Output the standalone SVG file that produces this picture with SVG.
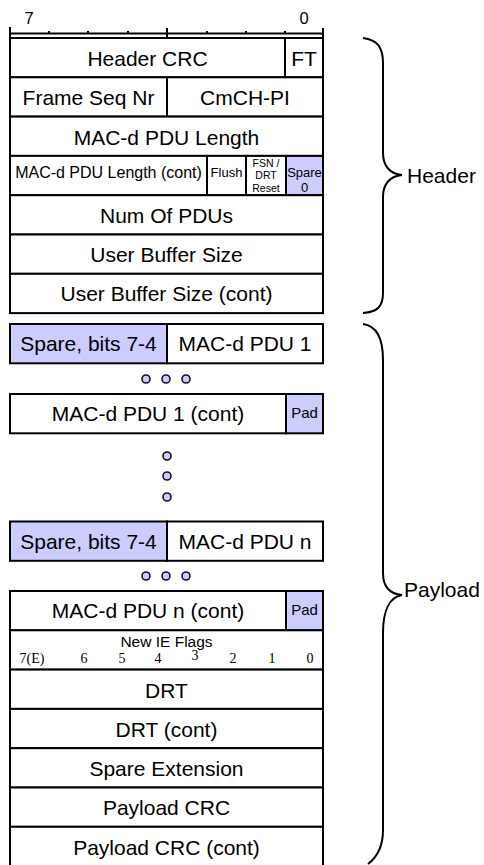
<svg xmlns="http://www.w3.org/2000/svg" width="484" height="865" viewBox="0 0 484 865">
<style>
.b{fill:#fff;stroke:#000;stroke-width:2}
.s{fill:#ccf;stroke:#000;stroke-width:2}
.ln{stroke:#000;stroke-width:2;fill:none}
.t{font-family:"Liberation Sans",Arial,sans-serif;font-size:21px;fill:#000;text-anchor:middle}
.sm{font-family:"Liberation Sans",Arial,sans-serif;fill:#000;text-anchor:middle}
.d{font-family:"Liberation Serif","Times New Roman",serif;font-size:14px;fill:#000;text-anchor:middle}
.dot{fill:#ccf;stroke:#112;stroke-width:1.6}
.br{fill:none;stroke:#000;stroke-width:2}
.lb{font-family:"Liberation Sans",Arial,sans-serif;font-size:21px;fill:#000}
</style>
<rect width="484" height="865" fill="#fff"/>
<g id="ruler">
<path class="ln" d="M10,33.5 H323 M10,27 V38 M167,28 V38 M323,28 V38 M49,31 V33.5 M88,31 V33.5 M128,31 V33.5 M207,31 V33.5 M246,31 V33.5 M285,31 V33.5"/>
<text class="sm" x="29" y="24" font-size="16.5">7</text>
<text class="sm" x="304" y="24" font-size="16.5">0</text>
</g>
<g id="row-header-crc">
<rect class="b" x="10" y="38" width="275" height="39.3"/>
<rect class="b" x="285" y="38" width="38" height="39.3"/>
<text class="t" x="147.5" y="65.5">Header CRC</text>
<text class="t" x="304" y="65.5">FT</text>
</g>
<g id="row-frame-seq">
<rect class="b" x="10" y="77.3" width="157" height="39.3"/>
<rect class="b" x="167" y="77.3" width="156" height="39.3"/>
<text class="t" x="88.5" y="105">Frame Seq Nr</text>
<text class="t" x="245" y="105">CmCH-PI</text>
</g>
<g id="row-pdu-length">
<rect class="b" x="10" y="116.6" width="313" height="39.3"/>
<text class="t" x="166.5" y="144.5">MAC-d PDU Length</text>
</g>
<g id="row-pdu-length-cont">
<rect class="b" x="10" y="155.9" width="197" height="39.3"/>
<rect class="b" x="207" y="155.9" width="39" height="39.3"/>
<rect class="b" x="246" y="155.9" width="40" height="39.3"/>
<rect class="s" x="286" y="155.9" width="37" height="39.3"/>
<text class="sm" x="108.5" y="178" font-size="16">MAC-d PDU Length (cont)</text>
<text class="sm" x="226.5" y="176.5" font-size="13">Flush</text>
<text class="sm" x="266" y="166.5" font-size="10.5">FSN /</text>
<text class="sm" x="266" y="178.5" font-size="10.5">DRT</text>
<text class="sm" x="266" y="191.5" font-size="10.5">Reset</text>
<text class="sm" x="304.5" y="177" font-size="13">Spare</text>
<text class="sm" x="304.5" y="192" font-size="13">0</text>
</g>
<g id="row-num-pdus">
<rect class="b" x="10" y="195.2" width="313" height="39.3"/>
<text class="t" x="166.5" y="222.5">Num Of PDUs</text>
</g>
<g id="row-user-buffer">
<rect class="b" x="10" y="234.5" width="313" height="39.3"/>
<text class="t" x="166.5" y="261.5">User Buffer Size</text>
</g>
<g id="row-user-buffer-cont">
<rect class="b" x="10" y="273.8" width="313" height="39.3"/>
<text class="t" x="166.5" y="301">User Buffer Size (cont)</text>
</g>
<g id="row-pdu1">
<rect class="s" x="10" y="324" width="157" height="39.3"/>
<rect class="b" x="167" y="324" width="156" height="39.3"/>
<text class="t" x="88.5" y="351">Spare, bits 7-4</text>
<text class="t" x="245" y="351">MAC-d PDU 1</text>
</g>
<g id="dots-1">
<circle class="dot" cx="146" cy="379" r="4"/>
<circle class="dot" cx="166" cy="379" r="4"/>
<circle class="dot" cx="186" cy="379" r="4"/>
</g>
<g id="row-pdu1-cont">
<rect class="b" x="10" y="394" width="276" height="39.3"/>
<rect class="s" x="286" y="394" width="37" height="39.3"/>
<text class="t" x="148" y="421">MAC-d PDU 1 (cont)</text>
<text class="sm" x="304.5" y="418" font-size="15">Pad</text>
</g>
<g id="dots-vertical">
<circle class="dot" cx="167" cy="456" r="4"/>
<circle class="dot" cx="167" cy="476" r="4"/>
<circle class="dot" cx="167" cy="497" r="4"/>
</g>
<g id="row-pdun">
<rect class="s" x="10" y="521.5" width="157" height="39.3"/>
<rect class="b" x="167" y="521.5" width="156" height="39.3"/>
<text class="t" x="88.5" y="548.5">Spare, bits 7-4</text>
<text class="t" x="245" y="548.5">MAC-d PDU n</text>
</g>
<g id="dots-2">
<circle class="dot" cx="146" cy="576" r="4"/>
<circle class="dot" cx="166" cy="576" r="4"/>
<circle class="dot" cx="186" cy="576" r="4"/>
</g>
<g id="row-pdun-cont">
<rect class="b" x="10" y="591" width="276" height="39.3"/>
<rect class="s" x="286" y="591" width="37" height="39.3"/>
<text class="t" x="148" y="618">MAC-d PDU n (cont)</text>
<text class="sm" x="304.5" y="615" font-size="15">Pad</text>
</g>
<g id="row-new-ie-flags">
<rect class="b" x="10" y="630.3" width="313" height="39.3"/>
<text class="sm" x="166.5" y="646.5" font-size="15.5">New IE Flags</text>
<text class="d" x="32" y="662.5">7(E)</text>
<text class="d" x="84" y="662.5">6</text>
<text class="d" x="122" y="662.5">5</text>
<text class="d" x="158" y="662.5">4</text>
<text class="d" x="195" y="660">3</text>
<text class="d" x="233" y="662.5">2</text>
<text class="d" x="272" y="662.5">1</text>
<text class="d" x="310" y="662.5">0</text>
</g>
<g id="row-drt">
<rect class="b" x="10" y="669.6" width="313" height="39.3"/>
<text class="t" x="166.5" y="697.5">DRT</text>
</g>
<g id="row-drt-cont">
<rect class="b" x="10" y="708.9" width="313" height="39.3"/>
<text class="t" x="166.5" y="736.5">DRT (cont)</text>
</g>
<g id="row-spare-ext">
<rect class="b" x="10" y="748.2" width="313" height="39.3"/>
<text class="t" x="166.5" y="775.5">Spare Extension</text>
</g>
<g id="row-payload-crc">
<rect class="b" x="10" y="787.5" width="313" height="39.3"/>
<text class="t" x="166.5" y="815">Payload CRC</text>
</g>
<g id="row-payload-crc-cont">
<rect class="b" x="10" y="826.8" width="313" height="39.3"/>
<text class="t" x="166.5" y="854.5">Payload CRC (cont)</text>
</g>
<g id="connectors">
<path class="br" d="M363,38 C378,40 383,48 383,63 L383,153 C383,166 390,174 402,175 C390,176 383,184 383,197 L383,293 C383,306 378,312 363,313"/>
<path class="br" d="M363,324 C378,326 383,340 383,360 L383,573 C383,587 390,594 402,595 C390,597 383,610 383,633 L383,830 C383,848 376,858 368,864"/>
</g>
<g id="label-header">
<text class="lb" x="407" y="183">Header</text>
</g>
<g id="label-payload">
<text class="lb" x="404" y="597">Payload</text>
</g>
</svg>
